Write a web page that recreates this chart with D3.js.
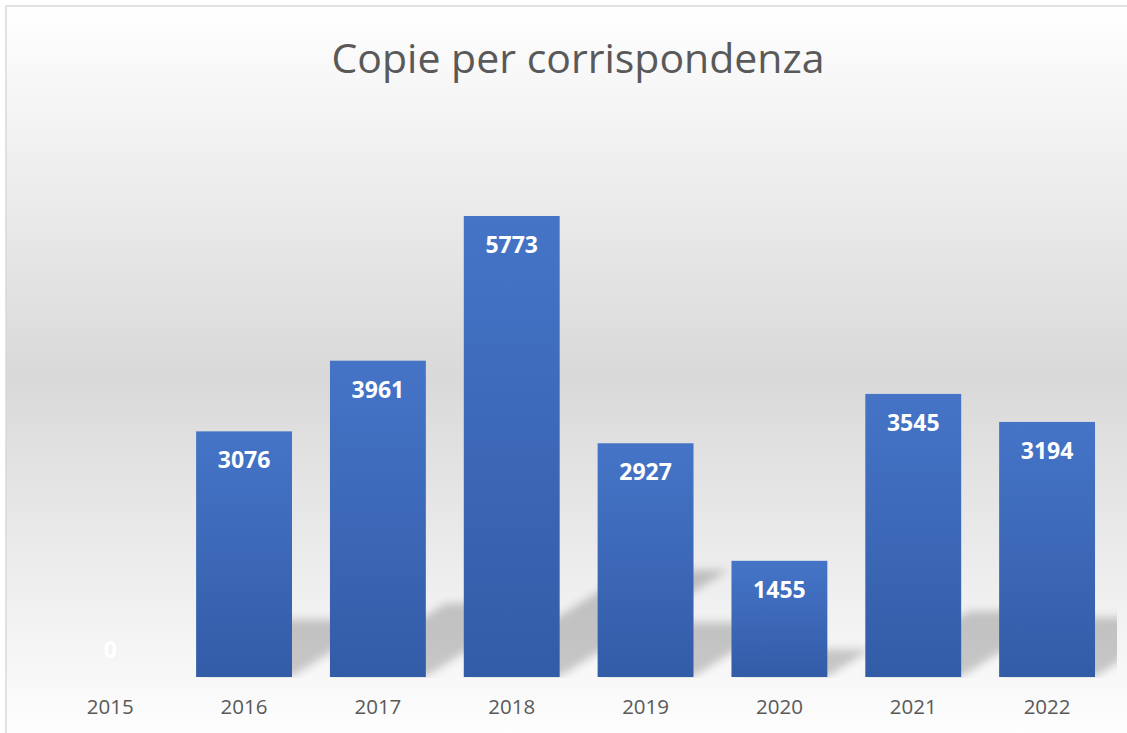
<!DOCTYPE html>
<html>
<head>
<meta charset="utf-8">
<script src="https://cdn.jsdelivr.net/npm/d3@7"></script>
<style>
  body { margin: 0; background: #ffffff; }
  svg { display: block; }
</style>
</head>
<body>
<div id="chart"></div>
<script>

// Chart data
const years = ["2015", "2016", "2017", "2018", "2019", "2020", "2021", "2022"];
const copies = [0, 3076, 3961, 5773, 2927, 1455, 3545, 3194];
const yMax = 7000;
const title = "Copie per corrispondenza";

// dimensions
const width = 1127;
const height = 733;
const plot = {left: 43.3, right: 1114, top: 118, bottom: 677};

const svg = d3.select("#chart")
  .append("svg")
  .attr("width", width)
  .attr("height", height);

const defs = svg.append("defs");

// background gradient: white -> grey -> white
const bg = defs.append("linearGradient")
  .attr("id", "bgGrad")
  .attr("x1", 0).attr("y1", 0).attr("x2", 0).attr("y2", 1);
bg.append("stop").attr("offset", "0%").attr("stop-color", "#ffffff");
bg.append("stop").attr("offset", "50%").attr("stop-color", "#d9d9d9");
bg.append("stop").attr("offset", "100%").attr("stop-color", "#ffffff");

// bar gradient
const barGrad = defs.append("linearGradient")
  .attr("id", "barGrad")
  .attr("x1", 0).attr("y1", 0).attr("x2", 0).attr("y2", 1);
barGrad.append("stop").attr("offset", "0%").attr("stop-color", "#4574c7");
barGrad.append("stop").attr("offset", "100%").attr("stop-color", "#335ca7");

// blur for the perspective shadow
defs.append("filter")
  .attr("id", "blur")
  .attr("x", "-50%").attr("y", "-50%").attr("width", "200%").attr("height", "200%")
  .append("feGaussianBlur")
  .attr("stdDeviation", 4);

defs.append("clipPath")
  .attr("id", "plotClip")
  .append("rect")
  .attr("x", plot.left)
  .attr("y", 0)
  .attr("width", 1117 - plot.left)
  .attr("height", plot.bottom + 1);

// chart area
svg.append("rect")
  .attr("x", 6)
  .attr("y", 6)
  .attr("width", 1200)
  .attr("height", 740)
  .attr("fill", "url(#bgGrad)")
  .attr("stroke", "#d9d9d9")
  .attr("stroke-width", 1.5);

// title
svg.append("text")
  .attr("x", 578)
  .attr("y", 73)
  .attr("text-anchor", "middle")
  .attr("font-family", "'Open Sans', sans-serif")
  .attr("font-size", "41px")
  .attr("fill", "#595959")
  .text(title);

/*
  Scales
*/
const xScale = d3.scaleBand()
  .domain(years)
  .range([plot.left, plot.right])
  .paddingInner(0.2836)
  .paddingOuter(0.1418);

const yScale = d3.scaleLinear()
  .domain([0, yMax])
  .range([plot.bottom, plot.top]);

const data = years.map((y, i) => ({year: y, value: copies[i]}));

/*
  Shadows (perspective, upper right)
*/
const sy = 0.23;    // vertical scale of shadow
const kx = 0.364;   // skew (tan 20deg)
const shadowPoints = function(d) {
  const x0 = xScale(d.year);
  const x1 = x0 + xScale.bandwidth();
  const h = yScale(0) - yScale(d.value);
  const base = yScale(0) - 1;
  const dx = kx * h + 1;
  const top = base - sy * h;
  return [[x0 + 1, base], [x1 + 1, base], [x1 + dx, top], [x0 + dx, top]]
    .map(p => p.join(",")).join(" ");
};

svg.append("g")
  .attr("clip-path", "url(#plotClip)")
  .append("g")
  .attr("filter", "url(#blur)")
  .selectAll("polygon")
  .data(data.filter(d => d.value > 0))
  .enter()
  .append("polygon")
    .attr("points", shadowPoints)
    .attr("fill", "#000000")
    .attr("fill-opacity", 0.2);

/*
  Bars
*/
svg.selectAll(".bar")
  .data(data)
  .enter()
  .append("rect")
    .attr("class", "bar")
    .attr("x", d => xScale(d.year))
    .attr("y", d => yScale(d.value))
    .attr("width", xScale.bandwidth())
    .attr("height", d => yScale(0) - yScale(d.value))
    .attr("fill", "url(#barGrad)");

// value labels (inside end)
svg.selectAll(".label")
  .data(data)
  .enter()
  .append("text")
    .attr("class", "label")
    .attr("x", d => xScale(d.year) + xScale.bandwidth() / 2)
    .attr("y", d => Math.min(yScale(d.value) + 37, yScale(0) - 19))
    .attr("text-anchor", "middle")
    .attr("font-family", "'Open Sans', sans-serif")
    .attr("font-weight", "bold")
    .attr("font-size", "23px")
    .attr("fill", "#ffffff")
    .text(d => d.value);

// x axis labels
const xAxis = svg.append("g")
  .attr("transform", `translate(0, ${plot.bottom})`)
  .call(d3.axisBottom(xScale).tickSize(0).tickPadding(22));

xAxis.select(".domain").remove();
xAxis.selectAll("text")
  .attr("font-family", "'Open Sans', sans-serif")
  .attr("font-size", "20.5px")
  .attr("fill", "#595959")
  .attr("dy", "0.71em");

</script>
</body>
</html>
